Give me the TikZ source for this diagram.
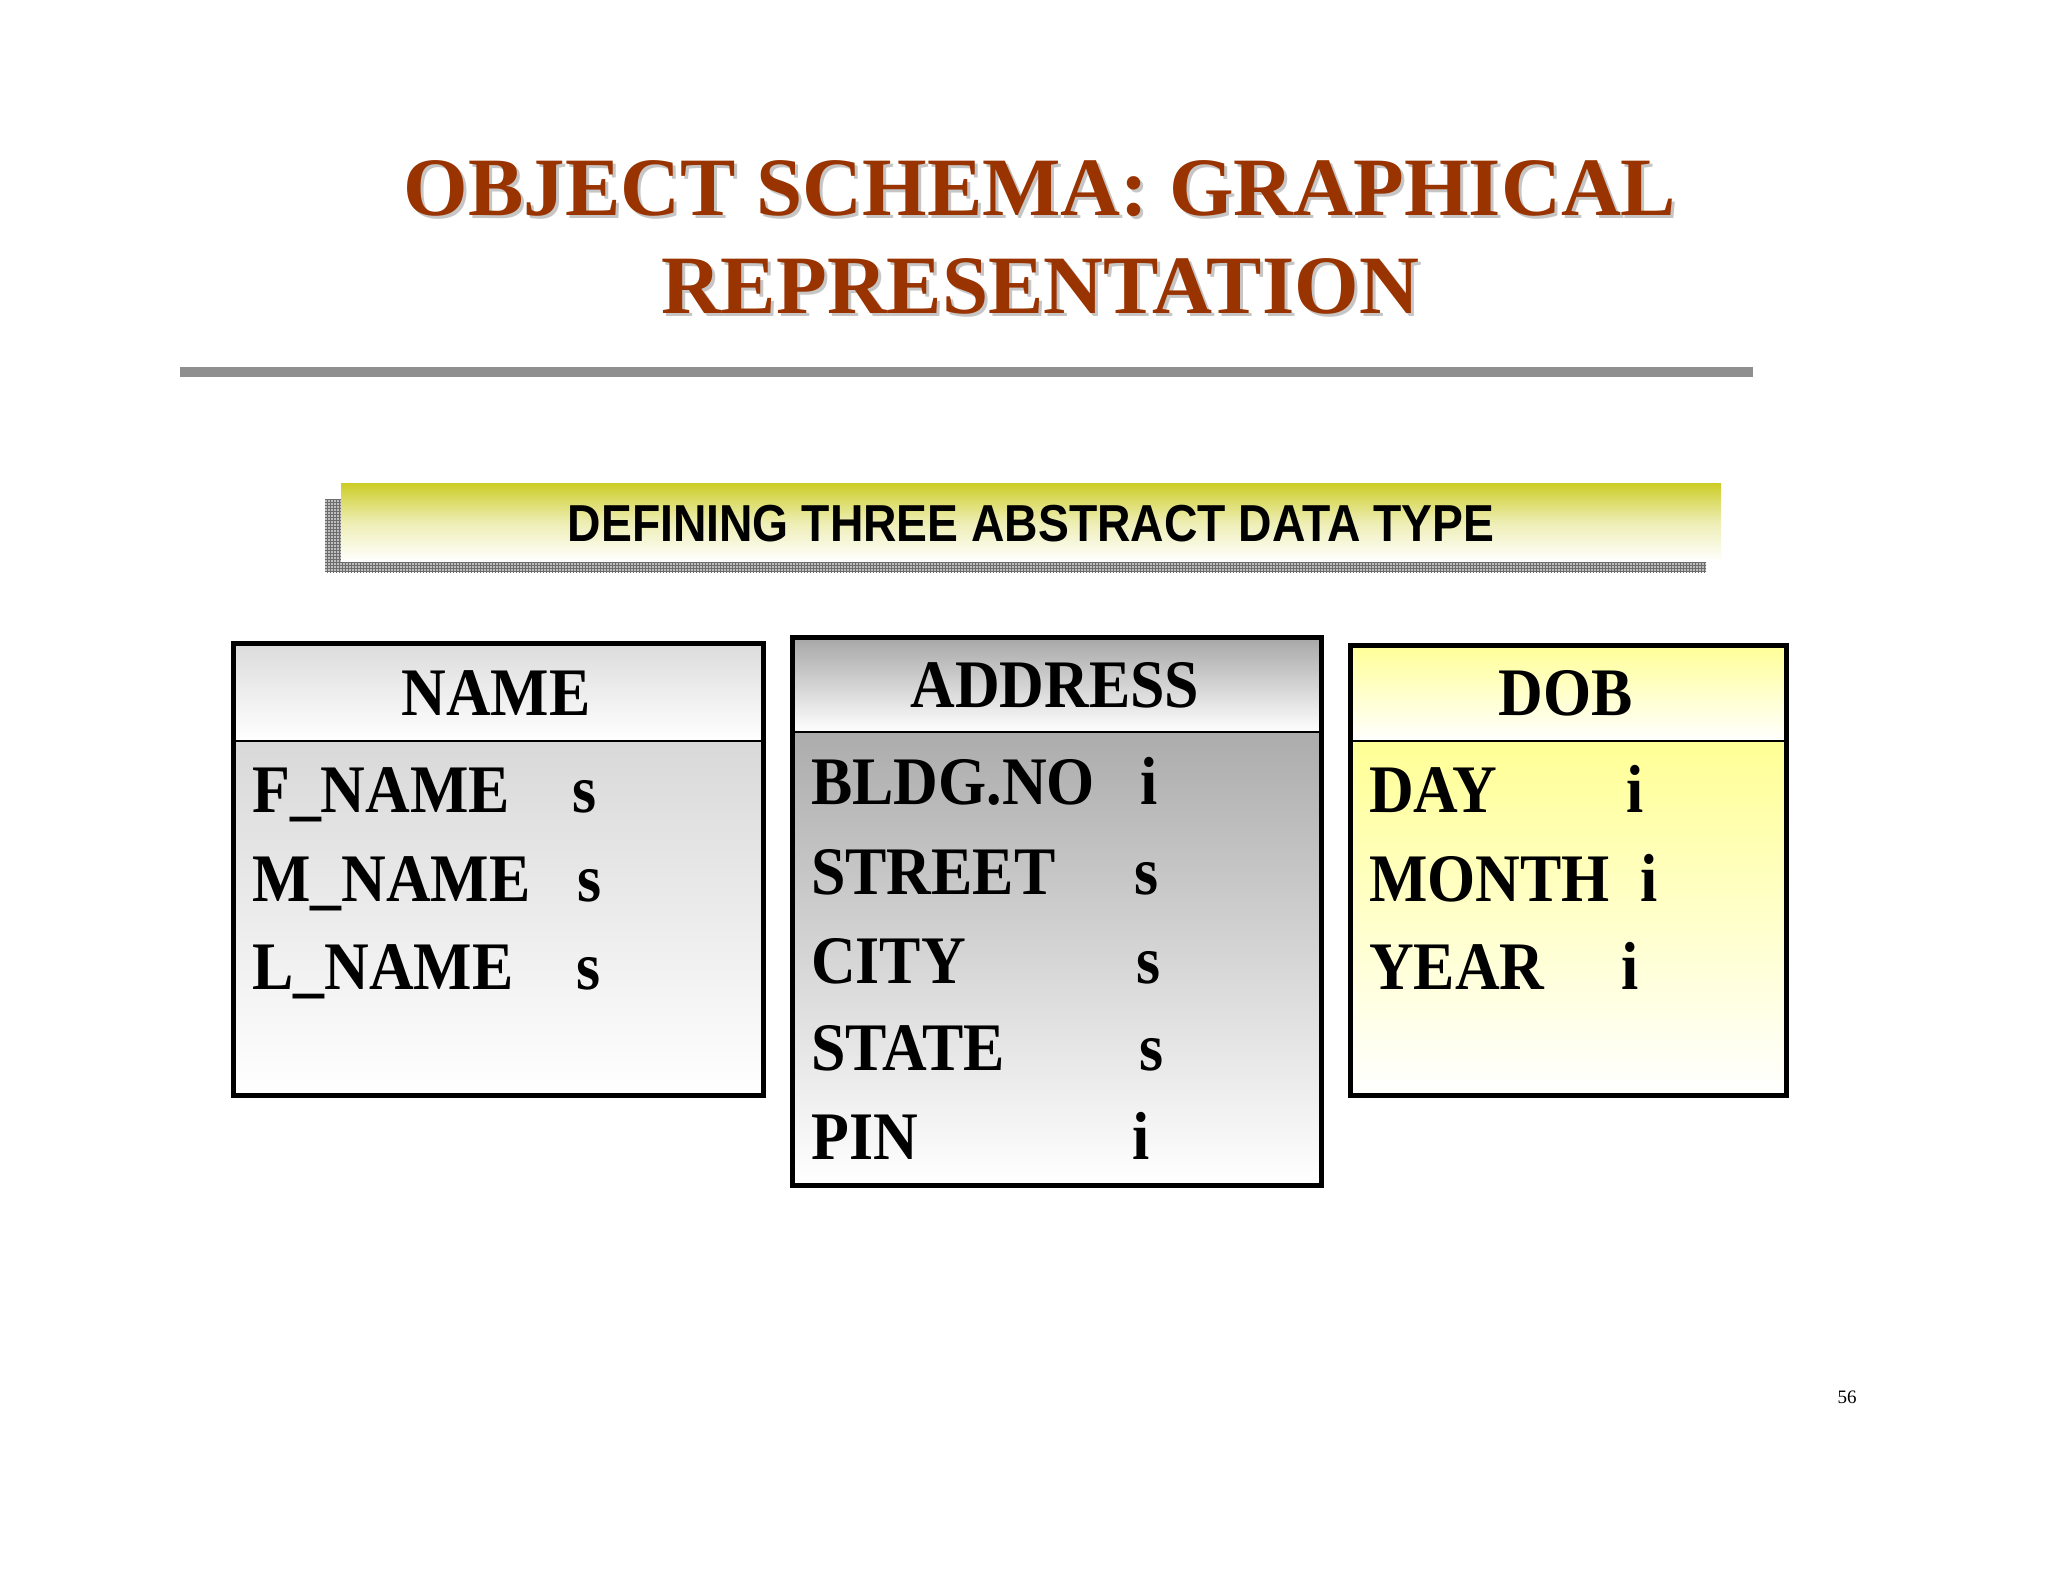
\documentclass[tikz,border=0pt]{standalone}
\usepackage{fontspec}
\usepackage{graphicx}
\setmainfont{Liberation Serif}
\newfontfamily\arialf{Liberation Sans}
\usetikzlibrary{patterns}
\definecolor{titlebrown}{RGB}{153,51,0}
\definecolor{ruleg}{RGB}{143,143,143}
\definecolor{olive}{RGB}{205,205,40}
\definecolor{paleyel}{RGB}{255,255,150}
\newcommand{\cmpr}[1]{\scalebox{0.91}[1]{#1}}
\tikzset{
  titletxt/.style={font=\fontsize{83}{90}\selectfont\bfseries, text=titlebrown, inner sep=0, anchor=base},
  titleshadow/.style={font=\fontsize{83}{90}\selectfont\bfseries, text=gray!45, inner sep=0, anchor=base},
  boxfield/.style={font=\fontsize{68}{70}\selectfont\bfseries, inner sep=0, anchor=base west},
  boxtitle/.style={font=\fontsize{68}{70}\selectfont\bfseries, inner sep=0, anchor=base},
  part/.style={draw=black, line width=2pt, anchor=north west, inner sep=0, shading=axis},
  frame/.style={draw=black, line width=5pt, anchor=north west, inner sep=0, fill=none},
}
\begin{document}
\begin{tikzpicture}[x=1pt,y=-1pt]
\useasboundingbox[fill=white] (0,0) rectangle (2048,1582);

% title
\node[titleshadow] (t1s) at (1043,218) {OBJECT SCHEMA: GRAPHICAL};
\node[titleshadow] (t2s) at (1043,316) {REPRESENTATION};
\node[titletxt] (t1) at (1040,215) {OBJECT SCHEMA: GRAPHICAL};
\node[titletxt] (t2) at (1040,313) {REPRESENTATION};

% rule
\coordinate (rl) at (180,372);
\coordinate (rr) at (1753,372);
\draw[ruleg, line width=10pt] (rl) -- (rr);

% banner
\node[anchor=north west, inner sep=0, minimum width=1381pt, minimum height=73pt, fill=gray!50,
      postaction={pattern=grid, pattern color=gray!85!black}] (bshadow) at (325,499) {};
\node[anchor=north west, inner sep=0, minimum width=1380pt, minimum height=78pt, shading=axis,
      top color=olive, bottom color=white, middle color=olive!35] (banner) at (341,483) {};
\node[font=\arialf\fontsize{52}{56}\selectfont\bfseries, inner sep=0, anchor=base] (btext) at (1031,541)
      {\scalebox{0.89}[1]{DEFINING THREE ABSTRACT DATA TYPE}};

% NAME box
\node[part, top color=gray!28, bottom color=white, minimum width=530pt, minimum height=99pt] (nameh) at (231,641) {};
\node[part, top color=gray!30, bottom color=white, minimum width=530pt, minimum height=353pt] (nameb) at (231,740) {};
\node[frame, minimum width=530pt, minimum height=452pt] (namef) at (231,641) {};
\node[boxtitle] (namet) at (496,715) {\cmpr{NAME}};
\node[boxfield] (n1) at (252,812) {\cmpr{F\_NAME}};
\node[boxfield] (n2) at (252,901) {\cmpr{M\_NAME}};
\node[boxfield] (n3) at (252,989) {\cmpr{L\_NAME}};
\node[boxfield] (n1t) at (572,812) {\cmpr{s}};
\node[boxfield] (n2t) at (577,901) {\cmpr{s}};
\node[boxfield] (n3t) at (576,989) {\cmpr{s}};

% ADDRESS box
\node[part, top color=gray!70, bottom color=white, minimum width=529pt, minimum height=96pt] (addrh) at (790,635) {};
\node[part, top color=gray!65, bottom color=white, minimum width=529pt, minimum height=452pt] (addrb) at (790,731) {};
\node[frame, minimum width=529pt, minimum height=548pt] (addrf) at (790,635) {};
\node[boxtitle] (addrt) at (1055,707) {\cmpr{ADDRESS}};
\node[boxfield] (a1) at (811,804) {\cmpr{BLDG.NO}};
\node[boxfield] (a2) at (811,894) {\cmpr{STREET}};
\node[boxfield] (a3) at (811,983) {\cmpr{CITY}};
\node[boxfield] (a4) at (811,1070) {\cmpr{STATE}};
\node[boxfield] (a5) at (811,1159) {\cmpr{PIN}};
\node[boxfield] (a1t) at (1140,804) {\cmpr{i}};
\node[boxfield] (a2t) at (1134,894) {\cmpr{s}};
\node[boxfield] (a3t) at (1136,983) {\cmpr{s}};
\node[boxfield] (a4t) at (1139,1070) {\cmpr{s}};
\node[boxfield] (a5t) at (1132,1159) {\cmpr{i}};

% DOB box
\node[part, top color=paleyel, bottom color=white, minimum width=436pt, minimum height=97pt] (dobh) at (1348,643) {};
\node[part, top color=paleyel, bottom color=white, minimum width=436pt, minimum height=353pt] (dobb) at (1348,740) {};
\node[frame, minimum width=436pt, minimum height=450pt] (dobf) at (1348,643) {};
\node[boxtitle] (dobt) at (1566,715) {\cmpr{DOB}};
\node[boxfield] (d1) at (1369,812) {\cmpr{DAY}};
\node[boxfield] (d2) at (1369,901) {\cmpr{MONTH}};
\node[boxfield] (d3) at (1369,989) {\cmpr{YEAR}};
\node[boxfield] (d1t) at (1626,812) {\cmpr{i}};
\node[boxfield] (d2t) at (1640,901) {\cmpr{i}};
\node[boxfield] (d3t) at (1621,989) {\cmpr{i}};

% page number
\node[font=\fontsize{19}{20}\selectfont, inner sep=0, anchor=base] (pnum) at (1847,1403) {56};
\end{tikzpicture}
\end{document}
